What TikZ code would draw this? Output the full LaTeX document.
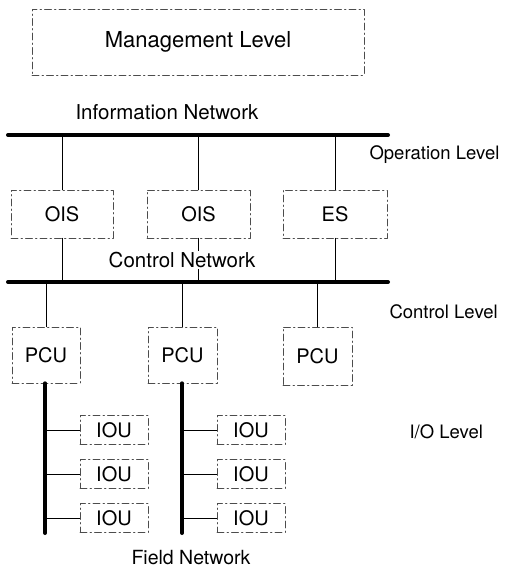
\documentclass[tikz,border=0pt]{standalone}
\usepackage{fontspec}
\setmainfont{TeX Gyre Heros}

\begin{document}
\begin{tikzpicture}[line cap=round,line join=round,x=1pt,y=-1pt,
  bus/.style={line width=4pt},
  drop/.style={line width=1pt},
  unit/.style={draw=black!70,line width=0.6pt,dash pattern=on 7pt off 3pt on 1.5pt off 3pt,inner sep=0pt,font=\fontsize{20}{24}\selectfont},
  lvl/.style={anchor=west,font=\fontsize{18.5}{22}\selectfont},
  net/.style={font=\fontsize{20.5}{24}\selectfont}]
\useasboundingbox (0,0) rectangle (518,571);
% top level
\node[unit,minimum width=332pt,minimum height=66pt,font=\fontsize{22}{26}\selectfont] (mgmt) at (198,42) {Management Level};
\node[net] (infonet) at (167,112) {Information Network};
% information network bus
\coordinate (infoL) at (8,135);
\coordinate (infoR) at (388,135);
\draw[bus] (infoL) -- (infoR);
\node[lvl] (oplvl) at (366,155) {Operation Level};
% operation stations
\node[unit,minimum width=102pt,minimum height=48pt] (ois1) at (62,214) {OIS};
\node[unit,minimum width=103pt,minimum height=48pt] (ois2) at (198.5,214) {OIS};
\node[unit,minimum width=104pt,minimum height=48pt] (es) at (335,214) {ES};
\foreach \n in {ois1,ois2,es}
  \draw[drop] (\n.north) -- (\n.north |- infoL);
% control network bus
\coordinate (ctrlL) at (8,282);
\coordinate (ctrlR) at (388,282);
\draw[bus] (ctrlL) -- (ctrlR);
\foreach \n in {ois1,ois2,es}
  \draw[drop] (\n.south) -- (\n.south |- ctrlL);
\node[net,fill=white,inner sep=1pt] (ctrlnet) at (182,260) {Control Network};
\node[lvl] (ctrllvl) at (386,312) {Control Level};
% process control units
\node[unit,minimum width=68pt,minimum height=56pt] (pcuA) at (46,355) {PCU};
\node[unit,minimum width=69pt,minimum height=56pt] (pcuB) at (182.5,355) {PCU};
\node[unit,minimum width=69pt,minimum height=58pt] (pcuC) at (317.5,356) {PCU};
\foreach \n in {pcuA,pcuB,pcuC}
  \draw[drop] (\n.north) -- (\n.north |- ctrlL);
% field networks with I/O units
\coordinate (fldA) at (45,533);
\coordinate (fldB) at (182,533);
\draw[bus] (pcuA.south -| fldA) -- (fldA);
\draw[bus] (pcuB.south -| fldB) -- (fldB);
\foreach \y [count=\i] in {430,474,518} {
  \node[unit,minimum width=68pt,minimum height=29pt] (iouA\i) at (114,\y) {IOU};
  \node[unit,minimum width=68pt,minimum height=29pt] (iouB\i) at (251,\y) {IOU};
  \draw[drop] (iouA\i.west) -- (iouA\i.west -| fldA);
  \draw[drop] (iouB\i.west) -- (iouB\i.west -| fldB);
}
\node[lvl] (iolvl) at (406,432) {I/O Level};
\node[net,font=\fontsize{19.5}{23}\selectfont] (fldnet) at (191,558) {Field Network};
\end{tikzpicture}
\end{document}
